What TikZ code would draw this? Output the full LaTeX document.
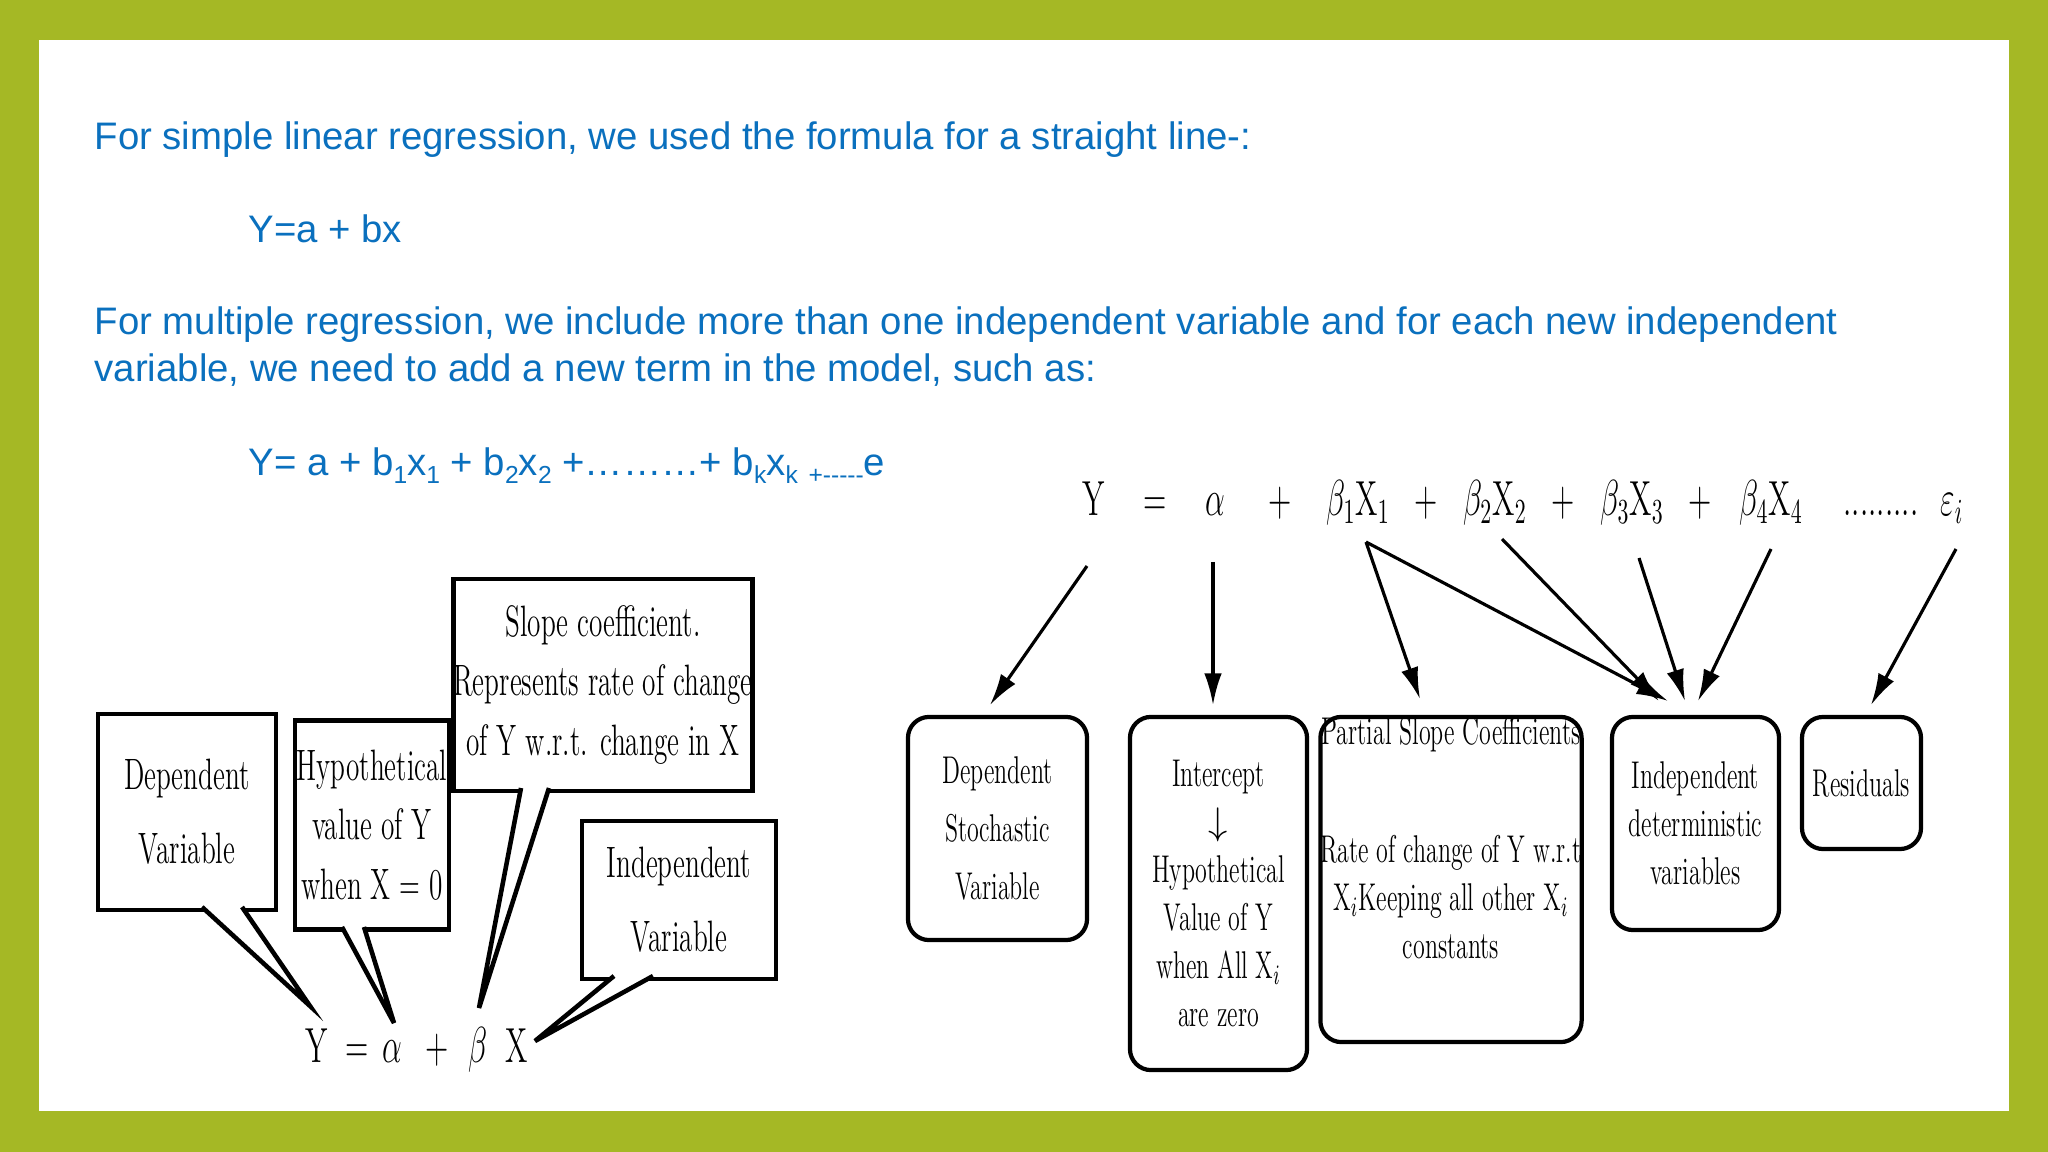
\documentclass[tikz,border=0pt]{standalone}
\usepackage{fontspec}
\usepackage{graphicx}
\setsansfont{Liberation Sans}
\usetikzlibrary{arrows.meta}
\definecolor{olive}{HTML}{A5B825}
\definecolor{txtblue}{HTML}{0A70BE}
\newcommand{\nar}[1]{\scalebox{0.62}[1]{#1}}
\newcommand{\sbs}[1]{\raisebox{-0.35ex}{\fontsize{7pt}{8pt}\selectfont #1}}
\begin{document}
\begin{tikzpicture}[x=0.01cm,y=-0.01cm,
  blue/.style={anchor=base west,text=txtblue,font=\sffamily\fontsize{10.9pt}{13pt}\selectfont,inner sep=0},
  cbox/.style={draw,line width=1.3pt,fill=white,inner sep=0,font=\fontsize{12.5pt}{17pt}\selectfont,align=center},
  rbox/.style={draw,line width=1.2pt,rounded corners=6pt,inner sep=0,font=\fontsize{11pt}{13.6pt}\selectfont,align=center},
  eq/.style={inner sep=0,font=\fontsize{14pt}{17pt}\selectfont,anchor=base},
  arr/.style={-{Latex[length=9pt,width=5pt]},line width=0.9pt},
  tailline/.style={line width=1.3pt,line join=miter}]
% background
\fill[olive] (0,0) rectangle (2048,1152);
\fill[white] (39,40) rectangle (2009,1111);
\useasboundingbox (0,0) rectangle (2048,1152);
% blue text
\node[blue] (t1) at (94,150) {For simple linear regression, we used the formula for a straight line-:};
\node[blue] (t2) at (248,243) {Y=a + bx};
\node[blue] (t3) at (94,335) {For multiple regression, we include more than one independent variable and for each new independent};
\node[blue] (t4) at (94,382) {variable, we need to add a new term in the model, such as:};
\node[blue] (t5) at (248,476) {Y= a + b\sbs{1}x\sbs{1} + b\sbs{2}x\sbs{2} +………+ b\sbs{k}x\sbs{k} \sbs{+{-}{-}{-}{-}{-}}e};
% ---- left diagram ----
\node[cbox,minimum width=1.78cm,minimum height=1.96cm] (dv) at (187,812) {\nar{Dependent}\\[4pt]\nar{Variable}};
\node[cbox,minimum width=1.54cm,minimum height=2.09cm] (hv) at (372,825) {\nar{Hypothetical}\\\nar{value of Y}\\\nar{when X = 0}};
\node[cbox,minimum width=2.71cm,minimum height=2.12cm] (sc) at (603,685) {\nar{Slope coefficient.}\\\nar{Represents rate of change}\\\nar{of Y w.r.t. change in X}};
\node[cbox,minimum width=1.94cm,minimum height=1.58cm] (iv) at (679,900) {\nar{Independent}\\[4pt]\nar{Variable}};
% equation
\node[eq] (ly) at (317,1062) {\nar{Y}};
\node[eq] (leq) at (357,1062) {\nar{=}};
\node[eq] (la) at (392,1062) {\nar{$\alpha$}};
\node[eq] (lp) at (437,1062) {\nar{+}};
\node[eq] (lb) at (478,1062) {\nar{$\beta$}};
\node[eq] (lx) at (517,1062) {\nar{X}};
% tails
\coordinate (dv1) at (202,907); \coordinate (dv2) at (242,907); \coordinate (dvt) at (310,1006);
\fill[white] (dv1)--(dvt)--(dv2)--cycle; \draw[tailline] (dv1)--(dvt)--(dv2);
\coordinate (hv1) at (342,927); \coordinate (hv2) at (364,927); \coordinate (hvt) at (394,1023);
\fill[white] (hv1)--(hvt)--(hv2)--cycle; \draw[tailline] (hv1)--(hvt)--(hv2);
\coordinate (sc1) at (521,788); \coordinate (sc2) at (549,788); \coordinate (sct) at (479,1008);
\fill[white] (sc1)--(sct)--(sc2)--cycle; \draw[tailline] (sc1)--(sct)--(sc2);
\coordinate (iv1) at (614,976); \coordinate (iv2) at (653,976); \coordinate (ivt) at (535,1041);
\fill[white] (iv1)--(ivt)--(iv2)--cycle; \draw[tailline] (iv1)--(ivt)--(iv2);
% ---- right diagram ----
\node[eq] (ry) at (1094,516) {\nar{Y}};
\node[eq] (req) at (1155,516) {\nar{=}};
\node[eq] (ra) at (1215,516) {\nar{$\alpha$}};
\node[eq] (rp1) at (1280,516) {\nar{+}};
\node[eq] (rb1) at (1358,516) {\nar{$\beta_1\mathrm{X}_1$}};
\node[eq] (rp2) at (1426,516) {\nar{+}};
\node[eq] (rb2) at (1495,516) {\nar{$\beta_2\mathrm{X}_2$}};
\node[eq] (rp3) at (1563,516) {\nar{+}};
\node[eq] (rb3) at (1632,516) {\nar{$\beta_3\mathrm{X}_3$}};
\node[eq] (rp4) at (1700,516) {\nar{+}};
\node[eq] (rb4) at (1771,516) {\nar{$\beta_4\mathrm{X}_4$}};
\node[eq] (rdots) at (1881,516) {\nar{.........}};
\node[eq] (re) at (1952,516) {\nar{$\varepsilon_i$}};
\node[rbox,minimum width=1.79cm,minimum height=2.23cm] (ds) at (997.5,828.5) {\nar{Dependent}\\[3pt]\nar{Stochastic}\\[3pt]\nar{Variable}};
\node[rbox,minimum width=1.77cm,minimum height=3.53cm] (ic) at (1218.5,893.5) {\nar{Intercept}\\$\downarrow$\\\nar{Hypothetical}\\\nar{Value of Y}\\\nar{when All X$_i$}\\\nar{are zero}};
\node[rbox,minimum width=2.38cm,minimum height=3.25cm] (ps) at (1451,879.5) {\nar{Partial Slope Coefficients}\\[20pt]\nar{Rate of change of Y w.r.t}\\\nar{X$_i$Keeping all other X$_i$}\\\nar{constants}\\[10pt]};
\node[rbox,minimum width=1.67cm,minimum height=2.13cm] (id) at (1695.5,823.5) {\nar{Independent}\\\nar{deterministic}\\\nar{variables}};
\node[rbox,minimum width=1.19cm,minimum height=1.32cm] (rs) at (1861.5,783) {\nar{Residuals}};
% arrows
\coordinate (ay) at (1087,566); \coordinate (aa) at (1213,562);
\coordinate (ab1) at (1366,542); \coordinate (ab2) at (1502,539);
\coordinate (ab3) at (1639,558); \coordinate (ab4) at (1771,549); \coordinate (ae) at (1956,549);
\draw[arr] (ay) -- (990,705);
\draw[arr] (aa) -- (1213,705);
\draw[arr] (ab1) -- (1420,699);
\draw[arr] (ab1) -- (1668,701);
\draw[arr] (ab2) -- (1659,701);
\draw[arr] (ab3) -- (1685,701);
\draw[arr] (ab4) -- (1698,701);
\draw[arr] (ae) -- (1871,705);
\end{tikzpicture}
\end{document}
